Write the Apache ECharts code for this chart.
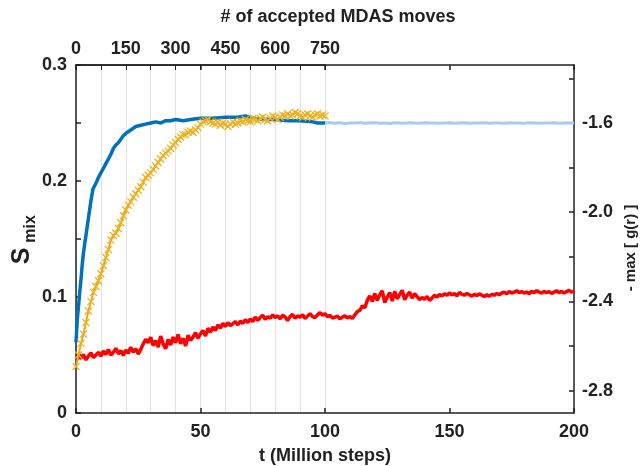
<!DOCTYPE html>
<html>
<head>
<meta charset="utf-8">
<script src="https://cdn.jsdelivr.net/npm/echarts@6/dist/echarts.min.js"></script>
<style>html,body{margin:0;padding:0;background:#fff}#c{width:644px;height:466px}</style>
</head>
<body>
<div id="c"></div>
<script>
// ---- data ----
var bottomTicks = [0, 50, 100, 150, 200];
var topTickLabels = [0, 150, 300, 450, 600, 750];
var leftTickLabels = [0, 0.1, 0.2, 0.3];
var rightTickLabels = [-2.8, -2.4, -2.0, -1.6];
var rightMinorTicks = [-2.8, -2.6, -2.4, -2.2, -2.0, -1.8, -1.6, -1.4];

// blue: S_mix (t, value)
var blueT = [0,0.5,1,1.5,2,2.5,3,3.5,4,5,6,6.8,7.5,8,9,10,11,12,13,14,15,16,17,18,19,20,22,24,26,28,30,32,34,36,38,40,43,46,50,55,60,65,68,70,72,75,80,85,90,95,97,100];
var blueS = [0.061,0.080,0.092,0.104,0.115,0.128,0.138,0.146,0.153,0.168,0.183,0.193,0.194,0.198,0.203,0.207,0.211,0.215,0.219,0.223,0.228,0.231,0.233,0.236,0.239,0.241,0.244,0.247,0.248,0.249,0.250,0.251,0.250,0.252,0.252,0.253,0.252,0.253,0.254,0.254,0.255,0.255,0.256,0.255,0.254,0.253,0.253,0.252,0.252,0.251,0.250,0.250];

// light blue continuation, t = 100..200 step 2
var lightT0 = 100, lightStep = 2;
var lightS = [0.250,0.2505,0.2498,0.2502,0.2496,0.2501,0.2499,0.2504,0.2497,0.2500,
  0.2503,0.2498,0.2501,0.2496,0.2502,0.2499,0.2497,0.2503,0.2500,0.2498,
  0.2502,0.2499,0.2501,0.2497,0.2500,0.2503,0.2498,0.2500,0.2502,0.2497,
  0.2501,0.2499,0.2503,0.2498,0.2500,0.2501,0.2497,0.2502,0.2499,0.2500,
  0.2498,0.2502,0.2500,0.2497,0.2501,0.2499,0.2503,0.2498,0.2500,0.2501,0.2499];

// yellow: S_mix, t = 0..100 step 1
var yellowS = [0.040,0.050,0.060,0.068,0.078,0.088,0.096,0.104,0.109,0.114,
  0.120,0.127,0.134,0.141,0.149,0.153,0.155,0.159,0.164,0.170,
  0.175,0.179,0.182,0.186,0.189,0.192,0.195,0.199,0.203,0.205,
  0.207,0.210,0.213,0.216,0.219,0.222,0.224,0.226,0.228,0.231,
  0.233,0.236,0.238,0.240,0.240,0.242,0.243,0.242,0.244,0.246,
  0.249,0.251,0.252,0.253,0.251,0.250,0.249,0.251,0.248,0.250,
  0.249,0.247,0.249,0.251,0.249,0.250,0.252,0.251,0.253,0.252,
  0.251,0.254,0.253,0.252,0.254,0.255,0.253,0.252,0.254,0.256,
  0.255,0.253,0.255,0.257,0.256,0.258,0.256,0.257,0.259,0.258,
  0.256,0.255,0.257,0.258,0.256,0.255,0.257,0.258,0.256,0.257,0.256];

// red: -max[g(r)], t = 0..200 step 1
var redG = [-2.660,-2.648,-2.655,-2.638,-2.662,-2.645,-2.630,-2.652,-2.640,-2.628,
  -2.645,-2.622,-2.638,-2.615,-2.640,-2.628,-2.610,-2.635,-2.620,-2.642,
  -2.618,-2.632,-2.605,-2.628,-2.612,-2.636,-2.615,-2.590,-2.570,-2.585,
  -2.560,-2.598,-2.575,-2.605,-2.555,-2.590,-2.612,-2.570,-2.595,-2.560,
  -2.585,-2.548,-2.590,-2.565,-2.600,-2.552,-2.575,-2.560,-2.540,-2.565,
  -2.545,-2.530,-2.555,-2.520,-2.538,-2.515,-2.530,-2.505,-2.520,-2.498,
  -2.512,-2.495,-2.508,-2.500,-2.490,-2.505,-2.488,-2.498,-2.482,-2.495,
  -2.478,-2.490,-2.470,-2.485,-2.472,-2.462,-2.480,-2.468,-2.475,-2.460,
  -2.472,-2.465,-2.478,-2.462,-2.470,-2.485,-2.468,-2.458,-2.475,-2.465,
  -2.470,-2.460,-2.476,-2.465,-2.455,-2.468,-2.472,-2.460,-2.450,-2.462,
  -2.455,-2.468,-2.462,-2.475,-2.470,-2.466,-2.478,-2.470,-2.465,-2.474,
  -2.468,-2.476,-2.460,-2.445,-2.440,-2.420,-2.428,-2.395,-2.375,-2.400,
  -2.365,-2.395,-2.370,-2.352,-2.405,-2.380,-2.360,-2.398,-2.355,-2.388,
  -2.368,-2.350,-2.392,-2.372,-2.358,-2.385,-2.365,-2.378,-2.392,-2.382,
  -2.390,-2.378,-2.395,-2.385,-2.372,-2.380,-2.368,-2.376,-2.365,-2.372,
  -2.362,-2.370,-2.365,-2.375,-2.360,-2.368,-2.372,-2.364,-2.370,-2.376,
  -2.368,-2.374,-2.366,-2.372,-2.378,-2.370,-2.376,-2.368,-2.372,-2.364,
  -2.370,-2.362,-2.358,-2.366,-2.355,-2.362,-2.358,-2.352,-2.360,-2.356,
  -2.362,-2.358,-2.365,-2.355,-2.360,-2.352,-2.358,-2.362,-2.355,-2.360,
  -2.356,-2.364,-2.358,-2.352,-2.360,-2.355,-2.362,-2.356,-2.350,-2.358,-2.355];

// ---- build ----
function pairs(ts, vs){ return vs.map(function(v,i){ return [ts[i], v]; }); }
function stepPairs(t0, step, vs){ return vs.map(function(v,i){ return [t0 + i*step, v]; }); }

var FONT = "'Liberation Sans', Arial, sans-serif";
var TXT = '#222222';
var axisLineStyle = {color: '#222222', width: 1.5};
var labelStyle = {color: TXT, fontSize: 18, fontWeight: 'bold', fontFamily: FONT};

var chart = echarts.init(document.getElementById('c'), null, {renderer: 'canvas'});
var option = {
  animation: false,
  backgroundColor: '#fff',
  grid: [
    {left: 76, right: 70, top: 65, bottom: 53, containLabel: false, outerBoundsMode: 'none'},
    {left: 76, width: 249, top: 65, bottom: 53, containLabel: false, outerBoundsMode: 'none'}
  ],
  xAxis: [
    {gridIndex: 0, type: 'value', position: 'bottom', min: 0, max: 200, interval: 50,
     axisLine: {show: true, onZero: false, lineStyle: axisLineStyle},
     axisTick: {show: true, inside: true, length: 5, lineStyle: axisLineStyle},
     axisLabel: Object.assign({margin: 10}, labelStyle),
     splitLine: {show: false},
     name: 't (Million steps)', nameLocation: 'middle', nameGap: 34,
     nameTextStyle: {color: TXT, fontSize: 18, fontWeight: 'bold', fontFamily: FONT}},
    {gridIndex: 0, type: 'value', position: 'top', min: 0, max: 200, interval: 50,
     axisLine: {show: true, onZero: false, lineStyle: axisLineStyle},
     axisTick: {show: true, inside: true, length: 5, lineStyle: axisLineStyle},
     axisLabel: {show: false}, splitLine: {show: false}},
    {gridIndex: 1, type: 'value', position: 'top', min: 0, max: 750, interval: 75,
     axisLine: {show: true, onZero: false, lineStyle: axisLineStyle},
     axisTick: {show: true, inside: true, length: 5, lineStyle: {color: '#222222', width: 1}},
     axisLabel: Object.assign({margin: 7, formatter: function(v){
        return topTickLabels.indexOf(v) >= 0 ? String(v) : '';
     }}, labelStyle),
     splitLine: {show: true, lineStyle: {color: '#e3e3e3', width: 1}}}
  ],
  yAxis: [
    {gridIndex: 0, type: 'value', position: 'left', min: 0, max: 0.3, interval: 0.05,
     axisLine: {show: true, onZero: false, lineStyle: axisLineStyle},
     axisTick: {show: true, inside: true, length: 5, lineStyle: axisLineStyle},
     axisLabel: Object.assign({margin: 9, formatter: function(v){
        var r = Math.round(v*1000)/1000;
        for (var i=0;i<leftTickLabels.length;i++){ if (Math.abs(leftTickLabels[i]-r) < 1e-6) return String(leftTickLabels[i]); }
        return '';
     }}, labelStyle),
     splitLine: {show: false}},
    {gridIndex: 0, type: 'value', position: 'right', min: -2.9, max: -1.34,
     axisLine: {show: true, onZero: false, lineStyle: axisLineStyle},
     axisTick: {show: true, inside: true, length: 5, lineStyle: axisLineStyle, customValues: rightMinorTicks},
     axisLabel: Object.assign({margin: 8, customValues: rightTickLabels, formatter: function(v){ return v.toFixed(1); }}, labelStyle),
     splitLine: {show: false}},
    {gridIndex: 1, type: 'value', show: false, min: 0, max: 1}
  ],
  graphic: [
    {type: 'text', x: 338, y: 17, style: {text: '# of accepted MDAS moves', fill: TXT, font: 'bold 18px ' + FONT, align: 'center', verticalAlign: 'middle'}},
    {type: 'text', x: 22, y: 256, rotation: Math.PI/2, style: {text: 'S', fill: TXT, font: 'bold 25px ' + FONT, align: 'center', verticalAlign: 'middle'}},
    {type: 'text', x: 31, y: 229, rotation: Math.PI/2, style: {text: 'mix', fill: TXT, font: 'bold 16px ' + FONT, align: 'center', verticalAlign: 'middle'}},
    {type: 'text', x: 631, y: 248, rotation: Math.PI/2, style: {text: '- max [ g(r) ]', fill: TXT, font: 'bold 15px ' + FONT, align: 'center', verticalAlign: 'middle'}}
  ],
  series: [
    {type: 'line', xAxisIndex: 0, yAxisIndex: 1, data: stepPairs(0, 1, redG), showSymbol: false, symbol: 'none',
     lineStyle: {color: '#ff0000', width: 3.5}, z: 2},
    {type: 'line', xAxisIndex: 0, yAxisIndex: 0, data: stepPairs(lightT0, lightStep, lightS), symbol: 'none',
     lineStyle: {color: '#a9cbef', width: 3}, z: 3},
    {type: 'line', xAxisIndex: 0, yAxisIndex: 0, data: pairs(blueT, blueS), symbol: 'none',
     lineStyle: {color: '#0072BD', width: 3.5}, z: 4},
    {type: 'line', xAxisIndex: 0, yAxisIndex: 0, data: stepPairs(0, 1, yellowS),
     symbol: 'path://M0,0L10,10M10,0L0,10', symbolSize: 7, showSymbol: true, showAllSymbol: true,
     itemStyle: {color: 'rgba(0,0,0,0)', borderColor: '#EDB120', borderWidth: 1.3},
     lineStyle: {color: '#E8A818', width: 2}, z: 5}
  ]
};
chart.setOption(option);
</script>
</body>
</html>
